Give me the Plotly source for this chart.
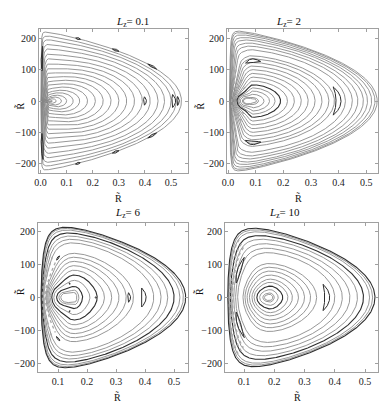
import numpy as np
import plotly.graph_objects as go

W, H = 387, 405

# ---------------- data ----------------
LZ_VALUES = [0.1, 2, 6, 10]
PANEL_TITLES = ["<i>L</i><sub>z</sub>= 0.1", "<i>L</i><sub>z</sub>= 2",
                "<i>L</i><sub>z</sub>= 6", "<i>L</i><sub>z</sub>= 10"]
X_TICKS_TOP = [0.0, 0.1, 0.2, 0.3, 0.4, 0.5]
X_TICKS_BOTTOM = [0.1, 0.2, 0.3, 0.4, 0.5]
Y_TICKS = [-200, -100, 0, 100, 200]

# central fixed point R of each panel
CENTER_R = [0.03, 0.09, 0.155, 0.186]
# outer (zero-velocity) boundary: left edge, right edge, max momentum
BOUND_LEFT = [0.002, 0.006, 0.042, 0.047]
BOUND_RIGHT = [0.54, 0.54, 0.54, 0.533]
BOUND_PMAX = [222, 225, 212, 208]

# right-hand crossing (p = 0) of each invariant curve
CURVES_LZ01 = [0.045, 0.06, 0.08, 0.10, 0.125, 0.15, 0.18, 0.21, 0.24, 0.27,
               0.30, 0.33, 0.36, 0.39, 0.42, 0.45, 0.475, 0.50, 0.52, 0.54]
BOLD_LZ01 = []
CURVES_LZ2 = [0.103, 0.11, 0.13, 0.15, 0.17, 0.215, 0.24, 0.265, 0.29, 0.315,
              0.34, 0.365, 0.385, 0.425, 0.45, 0.47, 0.49, 0.505, 0.52, 0.532, 0.54]
BOLD_LZ2 = [0.19]
CURVES_LZ6 = [0.165, 0.172, 0.21, 0.26, 0.285, 0.31, 0.335, 0.36, 0.43, 0.455,
              0.478, 0.52, 0.532]
BOLD_LZ6 = [0.185, 0.235, 0.50, 0.54]
CURVES_LZ10 = [0.195, 0.20, 0.213, 0.245, 0.26, 0.28, 0.30, 0.32, 0.34,
               0.40, 0.425, 0.45, 0.475, 0.515, 0.525]
BOLD_LZ10 = [0.228, 0.495, 0.533]

# islands: a point on the island (R, p), angular half-extent (deg), half thickness (px)
ISLANDS_LZ01 = [(0.40, 0, 2.5, 1.5), (0.51, 0, 3, 2.0), (0.527, 0, 2, 1.2),
                (0.15, 212, 2, 1.0), (0.30, 172, 2, 1.0), (0.43, 112, 2, 1.0),
                (0.43, -112, 2, 1.0), (0.30, -172, 2, 1.0), (0.15, -214, 2, 1.0),
                (0.006, 128, 3, 1.0), (0.006, -140, 3, 1.0)]
ISLANDS_LZ2 = [(0.40, 0, 10, 2.5), (0.09, 130, 11, 1.8), (0.09, -135, 11, 1.8)]
ISLANDS_LZ6 = [(0.395, 0, 8, 2.5), (0.345, 0, 5, 1.5), (0.10, 120, 3, 0.8),
               (0.10, -125, 3, 0.8), (0.23, 0, 2, 0.8), (0.14, 42, 2, 0.8),
               (0.14, -42, 2, 0.8)]
ISLANDS_LZ10 = [(0.375, 0, 14, 2.5), (0.083, 80, 17, 1.8), (0.083, -80, 17, 1.8)]

# chaotic layer near the left edge: left crossings (p = 0) of dotted arcs
CHAOS_LZ01 = []
CHAOS_LZ2 = [0.012, 0.02, 0.028]
CHAOS_LZ6 = [0.046, 0.051, 0.056]
CHAOS_LZ10 = [0.051, 0.056, 0.061]

# per-panel shape of the inner curves
BETA_TOP = [1.4, 0.95, 0.72, 0.84]
BETA_LEFT = [0.3, 0.25, 0.25, 0.55]

CURVES = [CURVES_LZ01, CURVES_LZ2, CURVES_LZ6, CURVES_LZ10]
BOLDS = [BOLD_LZ01, BOLD_LZ2, BOLD_LZ6, BOLD_LZ10]
ISLANDS = [ISLANDS_LZ01, ISLANDS_LZ2, ISLANDS_LZ6, ISLANDS_LZ10]
CHAOS = [CHAOS_LZ01, CHAOS_LZ2, CHAOS_LZ6, CHAOS_LZ10]

# ---------------- panel geometry (pixels) ----------------
PANEL_PX = [  # x0, x1, y0(top), y1(bottom)
    (39, 188, 29, 173),
    (227, 378, 29, 173),
    (38, 188, 223, 372),
    (225, 378, 223, 372),
]
TITLE_Y = [13, 13, 213, 213]
X_RANGES = [(-0.006, 0.565), (-0.004, 0.543), (0.031, 0.548), (0.037, 0.543)]
Y_RANGES = [(-232, 232), (-232, 232), (-226, 226), (-226, 226)]

M_EXP = 1.2     # power of the soft potential shaping the outer boundary
GAMMA = 2.0     # how fast the inner ovals take the boundary shape


class Panel:
    def __init__(self, i):
        x0, x1, y0, y1 = PANEL_PX[i]
        xr, yr = X_RANGES[i], Y_RANGES[i]
        self.sx = (x1 - x0) / (xr[1] - xr[0])
        self.sy = (y1 - y0) / (yr[1] - yr[0])
        self.R0 = CENTER_R[i]
        self.bt, self.bl = BETA_TOP[i], BETA_LEFT[i]
        Rl, Rr, pm = BOUND_LEFT[i], BOUND_RIGHT[i], BOUND_PMAX[i]
        a = Rl ** 2 * (1 - (Rl / Rr) ** M_EXP)
        g = lambda R: 1 - (R / Rr) ** M_EXP - a / R ** 2
        lo, hi = 0.5 * (Rl + Rr), Rr
        for _ in range(80):
            mid = 0.5 * (lo + hi)
            if g(mid) > 0:
                lo = mid
            else:
                hi = mid
        rr = 0.5 * (lo + hi)
        t = np.linspace(0, np.pi, 4000)
        R = Rl + (rr - Rl) * (1 - np.cos(t)) / 2
        gv = np.clip(g(R), 0, None)
        P = np.sqrt(gv / gv.max()) * pm
        Rb = np.concatenate([R, R[::-1]])
        Pb = np.concatenate([P, -P[::-1]])
        X = (Rb - self.R0) * self.sx
        Y = Pb * self.sy
        th = np.arctan2(Y, X)
        rad = np.hypot(X, Y)
        o = np.argsort(th)
        self.th_b, self.r_b = th[o], rad[o]
        self.rB0 = self.rB(np.array([0.0]))[0]
        self.rBpi = self.rB(np.array([np.pi]))[0]
        self.rB90 = 0.5 * (self.rB(np.array([np.pi / 2]))[0] + self.rB(np.array([-np.pi / 2]))[0])

    def rB(self, th):
        return np.interp(th, self.th_b, self.r_b, period=2 * np.pi)

    def r_curve(self, th, s):
        c, sn = np.cos(th), np.sin(th)
        beta = np.where(c >= 0, 1 + (self.bt - 1) * sn ** 2,
                        self.bt + (self.bl - self.bt) * c ** 2)
        a = np.where(c >= 0, self.rB0, self.rBpi)
        b = self.rB90
        r_ov = 1 / np.sqrt((c / a) ** 2 + (sn / b) ** 2)
        w = s ** GAMMA
        return s ** beta * ((1 - w) * r_ov + w * self.rB(th))

    def to_data(self, th, r):
        return self.R0 + r * np.cos(th) / self.sx, r * np.sin(th) / self.sy

    def loop_s(self, s, n=720):
        th = np.linspace(-np.pi, np.pi, n)
        return self.to_data(th, self.r_curve(th, s))

    def s_right(self, Rc):
        return (Rc - self.R0) * self.sx / self.rB0

    def s_through(self, th, r_target):
        lo, hi = 1e-6, 1.0
        for _ in range(60):
            mid = 0.5 * (lo + hi)
            if self.r_curve(np.array([th]), mid)[0] < r_target:
                lo = mid
            else:
                hi = mid
        return 0.5 * (lo + hi)

    def arc(self, R, p, half_ang, half_th):
        X, Y = (R - self.R0) * self.sx, p * self.sy
        thc, rc = np.arctan2(Y, X), np.hypot(X, Y)
        s = self.s_through(thc, rc)
        th = thc + np.radians(np.linspace(-half_ang, half_ang, 200))
        r = self.r_curve(th, s)
        Xs, Ys = r * np.cos(th), r * np.sin(th)
        if half_th <= 0:
            return self.R0 + Xs / self.sx, Ys / self.sy
        dx, dy = np.gradient(Xs), np.gradient(Ys)
        nrm = np.hypot(dx, dy) + 1e-12
        nx, ny = -dy / nrm, dx / nrm
        u = np.linspace(0, 1, len(Xs))
        w = half_th * np.sin(np.pi * u)
        Xa = np.concatenate([Xs + nx * w, (Xs - nx * w)[::-1], [Xs[0]]])
        Ya = np.concatenate([Ys + ny * w, (Ys - ny * w)[::-1], [Ys[0]]])
        return self.R0 + Xa / self.sx, Ya / self.sy


# ---------------- figure ----------------
fig = go.Figure()
GRAY = "#848484"
DARK = "#2e2e2e"
FONT = "Liberation Serif"

layout = dict(width=W, height=H, margin=dict(l=0, r=0, t=0, b=0),
              paper_bgcolor="white", plot_bgcolor="white", showlegend=False)

annotations = []
for i, lz in enumerate(LZ_VALUES):
    pn = Panel(i)
    x0, x1, y0, y1 = PANEL_PX[i]
    xa = "x" if i == 0 else f"x{i + 1}"
    ya = "y" if i == 0 else f"y{i + 1}"
    xr, yr = X_RANGES[i], Y_RANGES[i]

    def add(R, P, color, width, dash="solid"):
        fig.add_trace(go.Scatter(x=R, y=P, mode="lines", xaxis=xa, yaxis=ya,
                                 line=dict(color=color, width=width, dash=dash),
                                 hoverinfo="skip"))

    for rc in CURVES[i]:
        add(*pn.loop_s(pn.s_right(rc)), GRAY, 0.85)
    for rc in BOLDS[i]:
        add(*pn.loop_s(pn.s_right(rc)), DARK, 1.1)
    for rl in CHAOS[i]:
        add(*pn.arc(rl, 0.0, 62, 0), "#a8a8a8", 1.3, "dot")
    for (Rp, pp, ha, th) in ISLANDS[i]:
        add(*pn.arc(Rp, pp, ha, th), DARK, 1.0)

    xdom = [x0 / W, x1 / W]
    ydom = [1 - y1 / H, 1 - y0 / H]
    ticks = X_TICKS_TOP if i < 2 else X_TICKS_BOTTOM
    axcommon = dict(showgrid=False, zeroline=False, showline=True, mirror="ticks",
                    linecolor="#a0a0a0", linewidth=1, ticks="inside", ticklen=3,
                    tickcolor="#a0a0a0", automargin=False,
                    tickfont=dict(family=FONT, size=10, color="#222"))
    layout["xaxis" if i == 0 else f"xaxis{i + 1}"] = dict(
        domain=xdom, range=list(xr), anchor=ya, tickvals=ticks,
        ticktext=[f"{t:.1f}" for t in ticks], **axcommon)
    layout["yaxis" if i == 0 else f"yaxis{i + 1}"] = dict(
        domain=ydom, range=list(yr), anchor=xa, tickvals=Y_TICKS,
        ticktext=[("\u2212" + str(-t)) if t < 0 else str(t) for t in Y_TICKS], **axcommon)

    cx = (x0 + x1) / 2
    annotations.append(dict(text=PANEL_TITLES[i], x=cx / W, y=1 - TITLE_Y[i] / H,
                            xref="paper", yref="paper", showarrow=False,
                            font=dict(family=FONT, size=11, color="#111")))
    annotations.append(dict(text="R\u0303", x=cx / W, y=1 - (y1 + 18) / H,
                            xref="paper", yref="paper", showarrow=False, yanchor="top",
                            borderpad=0,
                            font=dict(family=FONT, size=10, color="#111")))
    annotations.append(dict(text="R\u0303\u0307", x=(x0 - 26) / W, y=1 - ((y0 + y1) / 2) / H,
                            xref="paper", yref="paper", showarrow=False, textangle=-90,
                            font=dict(family=FONT, size=10, color="#111")))

layout["annotations"] = annotations
fig.update_layout(**layout)
fig.write_html("out.html", config={"displayModeBar": False},
               post_script="document.body.style.margin='0';document.body.style.padding='0';")
